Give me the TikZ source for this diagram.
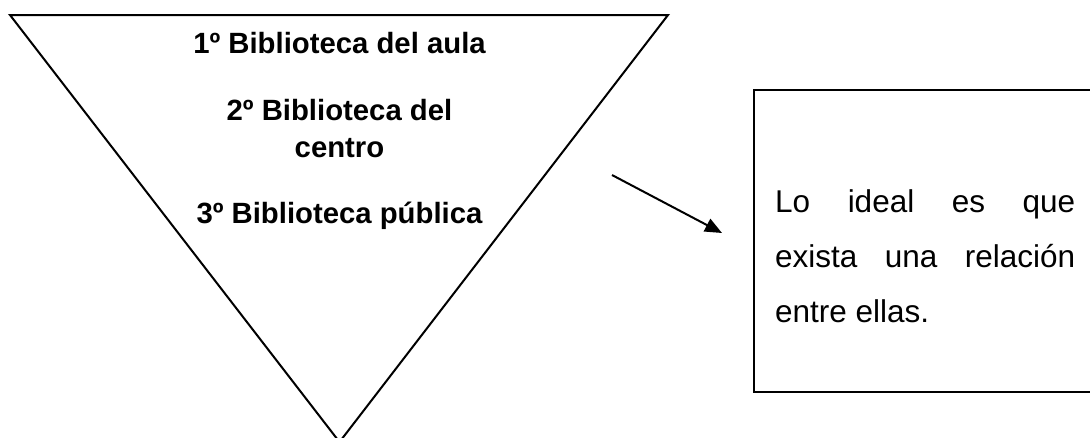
\documentclass[tikz,border=0pt]{standalone}
\usepackage{fontspec}
\setmainfont{Liberation Sans}
\usetikzlibrary{arrows.meta}
\tikzset{
  shape line/.style={line width=2pt, line join=miter},
  bold label/.style={anchor=base, inner sep=0pt, font=\fontsize{29.3}{33}\selectfont\bfseries},
  body line/.style={anchor=base west, inner sep=0pt, font=\fontsize{31.5}{36}\selectfont},
}
\begin{document}
\begin{tikzpicture}[x=1pt,y=-1pt]
\useasboundingbox (0,0) rectangle (1090,437);
% inverted triangle
\coordinate (tl) at (10,15);
\coordinate (tr) at (668,15);
\coordinate (ap) at (339.5,442);
\draw[shape line] (tl) -- (tr) -- (ap) -- cycle;
% labels in triangle
\node[bold label] (l1) at (339.5,53) {1º Biblioteca del aula};
\node[bold label] (l2) at (339.5,120) {2º Biblioteca del};
\node[bold label] (l2b) at (339.5,157) {centro};
\node[bold label] (l3) at (339.5,223) {3º Biblioteca pública};
% box
\coordinate (b1) at (754,90);
\coordinate (b2) at (1110,392);
\draw[shape line] (b1) rectangle (b2);
\node[body line] (t1) at (775,212) {\hbox to 300pt{Lo\hfill ideal\hfill es\hfill que}};
\node[body line] (t2) at (775,267) {\hbox to 300pt{exista\hfill una\hfill relación}};
\node[body line] (t3) at (775,322) {entre ellas.};
% arrow
\coordinate (as) at (612,175);
\coordinate (ae) at (722,233);
\draw[line width=2pt, -{Triangle[length=17pt,width=14pt]}] (as) -- (ae);
\end{tikzpicture}
\end{document}
